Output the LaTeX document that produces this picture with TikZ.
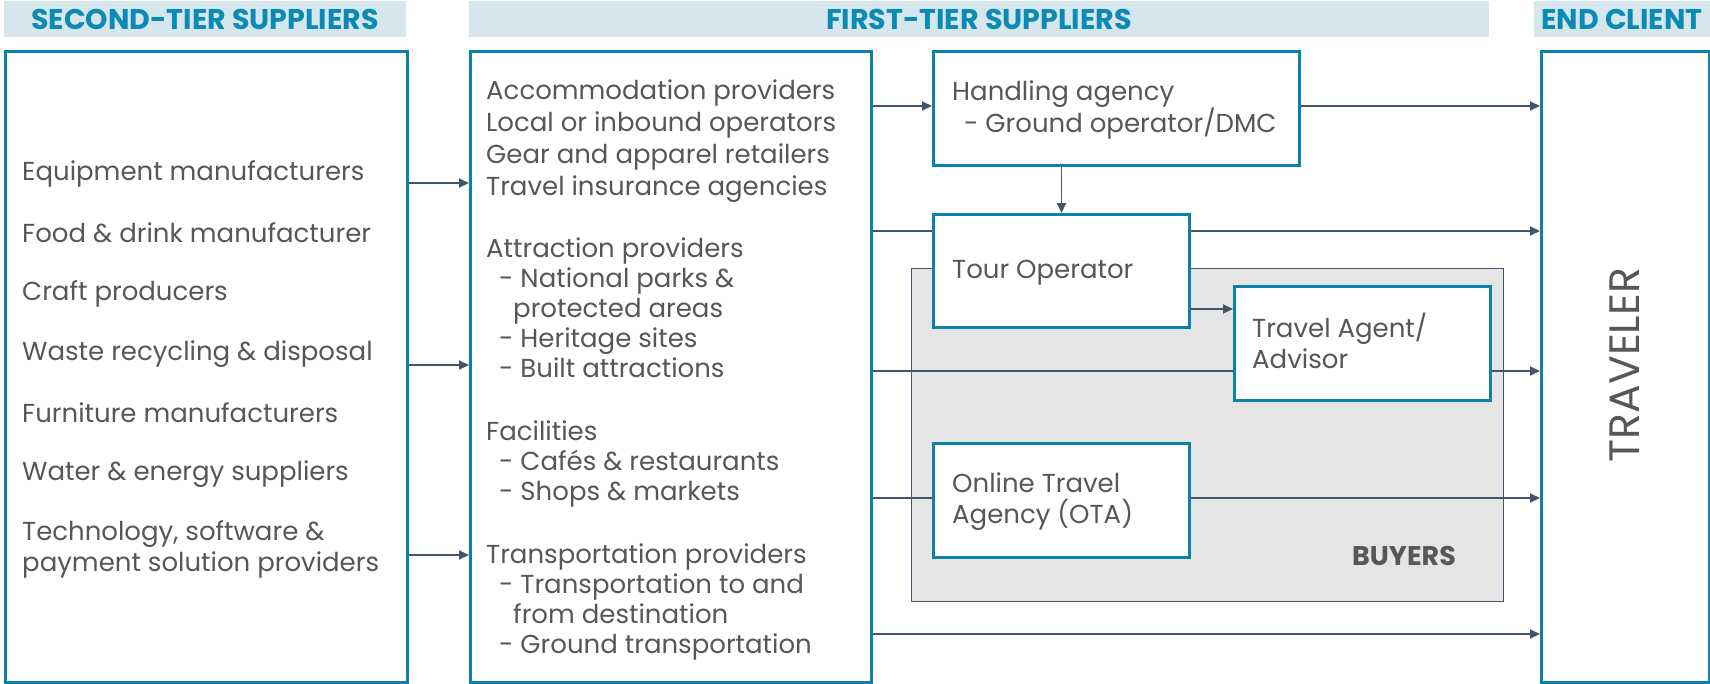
\documentclass[tikz,border=0pt]{standalone}
\usepackage{fontspec}
\setmainfont{Poppins}
\usetikzlibrary{positioning,arrows.meta}
\definecolor{tband}{HTML}{D5E6EC}
\definecolor{tteal}{HTML}{0A8AB4}
\definecolor{tline}{HTML}{0A82AC}
\definecolor{ttext}{HTML}{575757}
\definecolor{tarrow}{HTML}{44546A}
\definecolor{tgrey}{HTML}{E5E5E5}
\tikzset{
  hd/.style  = {fill=tband, text=tteal, inner sep=0pt,
                font=\bfseries\fontsize{28.5}{30}\selectfont},
  bx/.style  = {draw=tline, fill=white, line width=3pt, anchor=north west,
                inner sep=0pt},
  tx/.style  = {anchor=west, text=ttext, inner sep=0pt, align=left,
                font=\fontsize{26}{31}\selectfont},
  a/.style   = {-{Triangle[length=10pt,width=9pt]}, line width=1.8pt, draw=tarrow},
  ln/.style  = {line width=1.8pt, draw=tarrow},
}
\newcommand{\sub}{\hspace*{13pt}- }
\newcommand{\subb}{\hspace*{27pt}}

\begin{document}
\begin{tikzpicture}[x=1pt, y=-1pt]
\useasboundingbox (0,0) rectangle (1710,683);

% column headers
\node[hd, minimum width=402pt, minimum height=36pt] (h2) at (205,19) {SECOND-TIER SUPPLIERS};
\node[hd, minimum width=1020pt, minimum height=36pt] (h1) at (979,19) {FIRST-TIER SUPPLIERS};
\node[hd, minimum width=176pt, minimum height=36pt] (hc) at (1622,19) {END CLIENT};

% the buyers area sits under the lines
\node[draw=tarrow, fill=tgrey, line width=1.2pt, anchor=north west, inner sep=0pt,
      minimum width=592pt, minimum height=333pt] (buyers) at (911,268) {};
\node[text=ttext, font=\bfseries\fontsize{27}{30}\selectfont, inner sep=0pt]
      (buyl) at (1404,556) {BUYERS};

% main columns
\node[bx, minimum width=402pt, minimum height=631pt] (second) at (4,50) {};
\node[bx, minimum width=401pt, minimum height=631pt] (first) at (469,50) {};
\node[bx, minimum width=168pt, minimum height=631pt] (client) at (1540,50) {};

% buyer boxes
\node[bx, minimum width=366pt, minimum height=114pt] (handling) at (932,50) {};
\node[bx, minimum width=256pt, minimum height=113pt] (tour) at (932,213) {};
\node[bx, minimum width=256pt, minimum height=114pt] (agent) at (1233,285) {};
\node[bx, minimum width=256pt, minimum height=114pt] (ota) at (932,442) {};

% second-tier list
\foreach \y/\t [count=\i] in {174/Equipment manufacturers, 233/Food \& drink manufacturer,
    294/Craft producers, 354/Waste recycling \& disposal, 413/Furniture manufacturers,
    474/Water \& energy suppliers,
    549/{Technology, software \&\\payment solution providers}} {
  \node[tx] (s\i) at (22,\y) {\t};
}

% first-tier groups
\node[tx, font=\fontsize{26}{32}\selectfont] (f1) at (486,141) {Accommodation providers\\
  Local or inbound operators\\Gear and apparel retailers\\Travel insurance agencies};
\node[tx, font=\fontsize{26}{30}\selectfont] (f2) at (486,308) {Attraction providers\\
  \sub National parks \&\\\subb protected areas\\\sub Heritage sites\\\sub Built attractions};
\node[tx, font=\fontsize{26}{30}\selectfont] (f3) at (486,464) {Facilities\\
  \sub Caf\'es \& restaurants\\\sub Shops \& markets};
\node[tx, font=\fontsize{26}{30}\selectfont] (f4) at (486,602) {Transportation providers\\
  \sub Transportation to and\\\subb from destination\\\sub Ground transportation};

% buyer labels
\node[tx] (handlingl) at (952,110) {Handling agency\\\hspace*{12pt}- Ground operator/DMC};
\node[tx] (tourl) at (952,273) {Tour Operator};
\node[tx] (agentl) at (1252,341) {Travel Agent/\\Advisor};
\node[tx] (otal) at (952,502) {Online Travel\\Agency (OTA)};

\node[text=ttext, rotate=90, inner sep=0pt, font=\fontsize{42.5}{46}\selectfont]
      (travl) at (1625,365) {TRAVELER};

% second tier into first tier
\foreach \y in {183,365,555} {
  \draw[a] (second.east |- 0,\y) -- (first.west |- 0,\y);
}

% first tier towards buyers and traveler
\draw[a] (first.east |- 0,106) -- (handling.west |- 0,106);
\draw[a] (handling.east |- 0,106) -- (client.west |- 0,106);
\draw[a] (handling.south -| tour.north) -- (tour.north);
\draw[ln] (first.east |- 0,231) -- (tour.west |- 0,231);
\draw[a] (tour.east |- 0,231) -- (client.west |- 0,231);
\draw[a] (tour.east |- 0,309) -- (agent.west |- 0,309);
\draw[ln] (first.east |- 0,371) -- (agent.west |- 0,371);
\draw[a] (agent.east |- 0,371) -- (client.west |- 0,371);
\draw[ln] (first.east |- 0,498) -- (ota.west |- 0,498);
\draw[a] (ota.east |- 0,498) -- (client.west |- 0,498);
\draw[a] (first.east |- 0,634) -- (client.west |- 0,634);

\end{tikzpicture}
\end{document}
